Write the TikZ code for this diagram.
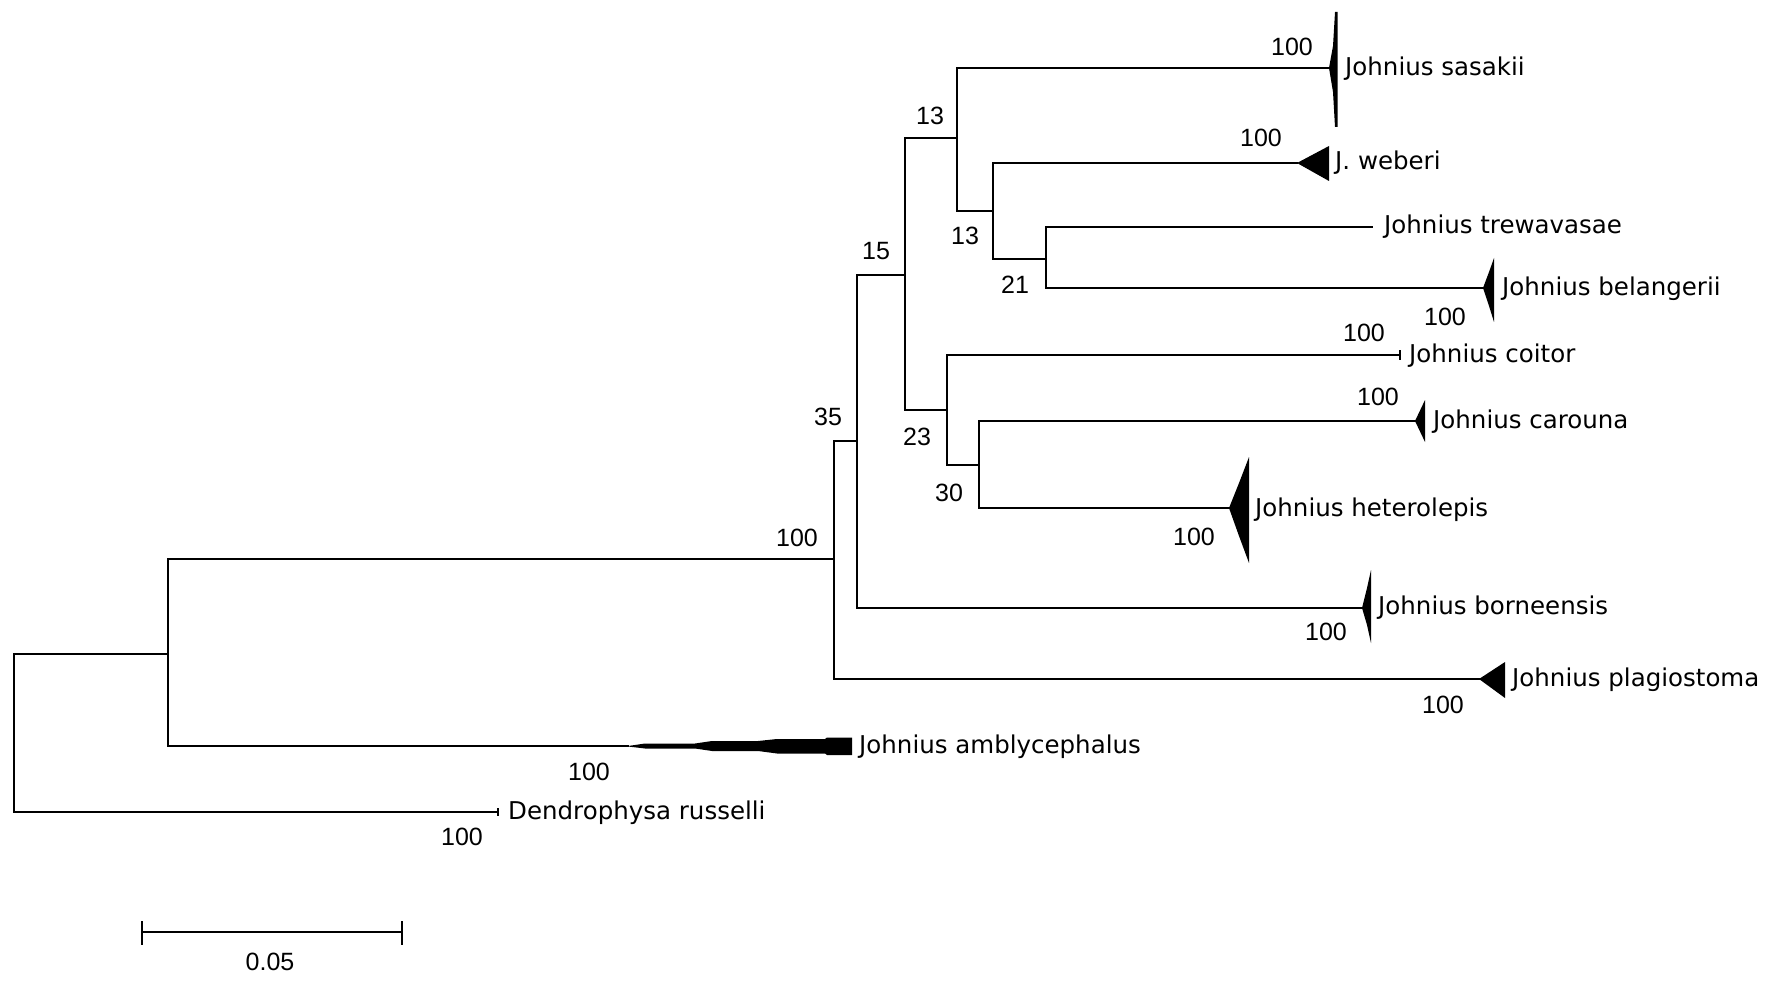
\documentclass[tikz,border=0pt]{standalone}
\usepackage{fontspec}
\newfontfamily\taxfont{DejaVu Sans}
\newfontfamily\numfont{Liberation Sans}
\usetikzlibrary{calc}

\begin{document}
\begin{tikzpicture}[x=1pt, y=-1pt,
  branch/.style={line width=1.9pt, line cap=rect},
  boot/.style={font=\numfont\fontsize{25}{30}\selectfont, inner sep=0pt},
  taxon/.style={font=\taxfont\fontsize{24.5}{29}\selectfont, inner sep=0pt, anchor=base west}]
  \useasboundingbox (0,0) rectangle (1771,981);
  % inner nodes: x of the split, y of the branch leading in
  \coordinate (R) at (14,654);
  \coordinate (A) at (168,654);
  \coordinate (B) at (834,559);
  \coordinate (C) at (857,441);
  \coordinate (D) at (905,275);
  \coordinate (E) at (957,138);
  \coordinate (G) at (993,211);
  \coordinate (H) at (1046,259);
  \coordinate (F) at (947,410);
  \coordinate (I) at (979,465);
  % tips
  \coordinate (sas) at (1329,68);
  \coordinate (web) at (1297,163);
  \coordinate (tre) at (1372,227);
  \coordinate (bel) at (1483,288);
  \coordinate (coi) at (1400,355);
  \coordinate (car) at (1415,421);
  \coordinate (het) at (1229,508);
  \coordinate (bor) at (1362,608);
  \coordinate (pla) at (1479,679);
  \coordinate (amb) at (628,746);
  \coordinate (den) at (498,812);
  % branches
  \draw[branch] (R) |- (A) (R) |- (den)
    (A) |- (B) (A) |- (amb)
    (B) |- (C) (B) |- (pla)
    (C) |- (D) (C) |- (bor)
    (D) |- (E) (D) |- (F)
    (E) |- (sas) (E) |- (G)
    (G) |- (web) (G) |- (H)
    (H) |- (tre) (H) |- (bel)
    (F) |- (coi) (F) |- (I)
    (I) |- (car) (I) |- (het);
  % collapsed clades
  \fill[shift={(sas)}] (0,0) -- (4,-22) -- (6,-56) -- (8.5,-56) -- (8.5,59) -- (6,59) -- (4,24) -- cycle;
  \fill[shift={(web)}] (0,0) -- (32,-17) -- (32,18) -- cycle;
  \fill[shift={(bel)}] (0,0) -- (6,-16) -- (11,-30) -- (11,34) -- (6,18) -- cycle;
  \fill[shift={(car)}] (0,0) -- (10,-21) -- (10,21) -- cycle;
  \fill[shift={(het)}] (0,0) -- (10,-25) -- (20,-51) -- (20,55) -- (10,28) -- cycle;
  \fill[shift={(bor)}] (0,0) -- (5,-20) -- (9,-38) -- (9,35) -- (5,17) -- cycle;
  \fill[shift={(pla)}] (0,0) -- (26,-17) -- (26,19) -- cycle;
  \fill[shift={(amb)}] (0,0) -- (17,-2.5) -- (67,-2.5) -- (84,-5) -- (130,-5) -- (149,-7)
    -- (197,-7) -- (199,-8.5) -- (224,-8.5) -- (224,9) -- (199,9) -- (197,7.5)
    -- (149,7.5) -- (130,5) -- (84,5) -- (67,2.5) -- (17,2.5) -- (0,0.5) -- cycle;
  \draw[shift={(coi)}, line width=1.5pt] (0,-5) -- (0,5);
  \draw[shift={(den)}, line width=1.5pt] (0,-4) -- (0,4);
  % taxa
  \node[taxon] (tsas) at ($(sas)+(16,8)$) {Johnius sasakii};
  \node[taxon] (tweb) at ($(web)+(38,7)$) {J. weberi};
  \node[taxon] (ttre) at ($(tre)+(12,7)$) {Johnius trewavasae};
  \node[taxon] (tbel) at ($(bel)+(19,8)$) {Johnius belangerii};
  \node[taxon] (tcoi) at ($(coi)+(9,7)$) {Johnius coitor};
  \node[taxon] (tcar) at ($(car)+(18,7)$) {Johnius carouna};
  \node[taxon] (thet) at ($(het)+(26,8)$) {Johnius heterolepis};
  \node[taxon] (tbor) at ($(bor)+(16,6)$) {Johnius borneensis};
  \node[taxon] (tpla) at ($(pla)+(33,7)$) {Johnius plagiostoma};
  \node[taxon] (tamb) at ($(amb)+(231,7)$) {Johnius amblycephalus};
  \node[taxon] (tden) at ($(den)+(10,7)$) {Dendrophysa russelli};
  % support values
  \node[boot] (vsas) at (1292,47) {100};
  \node[boot] (vweb) at (1261,138) {100};
  \node[boot] (vE) at (930,116) {13};
  \node[boot] (vG) at (965,236) {13};
  \node[boot] (vH) at (1015,285) {21};
  \node[boot] (vD) at (876,251) {15};
  \node[boot] (vbel) at (1445,317) {100};
  \node[boot] (vcoi) at (1364,333) {100};
  \node[boot] (vcar) at (1378,397) {100};
  \node[boot] (vF) at (917,437) {23};
  \node[boot] (vI) at (949,493) {30};
  \node[boot] (vC) at (828,417) {35};
  \node[boot] (vB) at (797,538) {100};
  \node[boot] (vhet) at (1194,537) {100};
  \node[boot] (vbor) at (1326,632) {100};
  \node[boot] (vpla) at (1443,705) {100};
  \node[boot] (vamb) at (589,772) {100};
  \node[boot] (vden) at (462,837) {100};
  % scale bar
  \coordinate (s0) at (142,932);
  \coordinate (s1) at (402,932);
  \draw[branch] (s0) -- (s1);
  \draw[branch] ($(s0)+(0,-10)$) -- ($(s0)+(0,12)$);
  \draw[branch] ($(s1)+(0,-10)$) -- ($(s1)+(0,12)$);
  \node[boot] (sl) at (270,962) {0.05};
\end{tikzpicture}
\end{document}
